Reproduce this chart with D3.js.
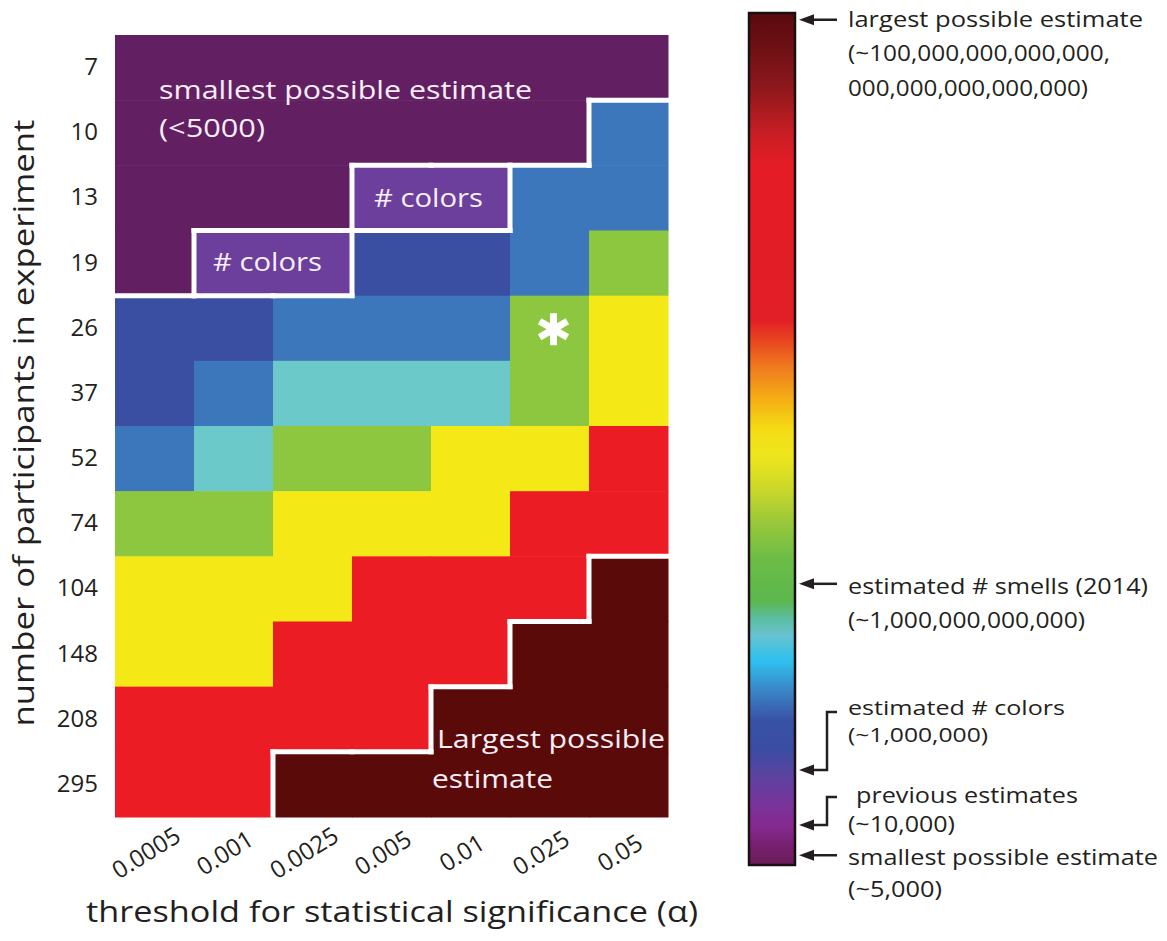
<!DOCTYPE html>
<html><head><meta charset="utf-8">
<script src="https://cdn.jsdelivr.net/npm/d3@7"></script>
<style>
body{margin:0;background:#fff;}
text{font-family:"Open Sans","Noto Sans",sans-serif;}
</style>
</head><body>
<svg id="chart" width="1167" height="941"></svg>
<script>
// ---------------- data ----------------
const alphas = ["0.0005","0.001","0.0025","0.005","0.01","0.025","0.05"];
const participants = ["7","10","13","19","26","37","52","74","104","148","208","295"];
const levels = ["smallest","colors","darkblue","blue","cyan","green","yellow","red","largest"];
const levelColors = ["#621f62","#6b3f9b","#3a4fa1","#3d77bb","#6cc9c9","#8dc63f","#f4e817","#ec1c24","#5b0a0a"];
// level index for each participant row (top to bottom) and alpha column (left to right)
const estimateLevels = [
  [0,0,0,0,0,0,0],
  [0,0,0,0,0,0,3],
  [0,0,0,1,1,3,3],
  [0,1,1,2,2,3,5],
  [2,2,3,3,3,5,6],
  [2,3,4,4,4,5,6],
  [3,4,5,5,6,6,7],
  [5,5,6,6,6,7,7],
  [6,6,6,7,7,7,8],
  [6,6,7,7,7,8,8],
  [7,7,7,7,8,8,8],
  [7,7,8,8,8,8,8]
];
const outlinedLevels = [0,1,8];
const starCell = {alpha:"0.025", n:"26"};

// colour bar (log10 of estimate, bottom to top)
const colorbarDomain = [3.7, 29];
const gradientOffsets = [0,0.04,0.09,0.14,0.18,0.36,0.385,0.415,0.455,0.49,0.52,0.56,0.60,0.64,0.69,0.71,0.73,0.76,0.795,0.83,0.865,0.897,0.93,0.955,0.98,1];
const gradientColors = ["#5a0a0e","#6c1014","#8f181c","#c81e24","#e51c25","#e21e26","#e8461f","#ef7a1e","#f5b114","#f4dd16","#eee61d","#c9d72a","#97c83a","#6cbd45","#5cb74e","#5bbd9f","#68c3cf","#2ec1ef","#3a86c6","#3852a5","#3a4da2","#5d42a0","#7a3399","#85298f","#74206b","#6a1c5a"];
// annotations: pointer position on the colour bar (log10 units)
const annotLabels = [
  ["largest possible estimate","(~100,000,000,000,000,","000,000,000,000,000)"],
  ["estimated # smells (2014)","(~1,000,000,000,000)"],
  ["estimated # colors","(~1,000,000)"],
  [" previous estimates","(~10,000)"],
  ["smallest possible estimate","(~5,000)"]
];
const annotPointers = [28.8, 12.05, 6.52, 4.89, 3.99];

// ---------------- layout ----------------
const svg = d3.select("#chart");
const x = d3.scaleBand().domain(alphas).range([115, 668]);
const y = d3.scaleBand().domain(participants).range([35, 817]);
const color = d3.scaleOrdinal().domain(d3.range(levels.length)).range(levelColors);

const cells = [];
participants.forEach((n,i)=>alphas.forEach((a,j)=>cells.push({n,a,i,j,lev:estimateLevels[i][j]})));

svg.append("g").selectAll("rect").data(cells).join("rect")
  .attr("x", d=>x(d.a)).attr("y", d=>y(d.n))
  .attr("width", x.bandwidth()+0.5).attr("height", y.bandwidth()+0.5)
  .attr("fill", d=>color(d.lev));

// white borders between outlined regions
const segs = [];
const isOut = l => outlinedLevels.includes(l);
for (let i=0;i<participants.length;i++){
  for (let j=0;j<alphas.length;j++){
    const l = estimateLevels[i][j];
    if (j+1<alphas.length){
      const r = estimateLevels[i][j+1];
      if (l!==r && (isOut(l)||isOut(r))){
        const xx = x(alphas[j+1]);
        segs.push([xx, y(participants[i]), xx, y(participants[i])+y.bandwidth()]);
      }
    }
    if (i+1<participants.length){
      const b = estimateLevels[i+1][j];
      if (l!==b && (isOut(l)||isOut(b))){
        const yy = y(participants[i+1]);
        segs.push([x(alphas[j]), yy, x(alphas[j])+x.bandwidth(), yy]);
      }
    }
  }
}
svg.append("g").selectAll("line").data(segs).join("line")
  .attr("x1",d=>d[0]).attr("y1",d=>d[1]).attr("x2",d=>d[2]).attr("y2",d=>d[3])
  .attr("stroke","#fff").attr("stroke-width",5).attr("stroke-linecap","square");

// asterisk
const sx = x(starCell.alpha)+x.bandwidth()/2+4, sy = y(starCell.n)+y.bandwidth()/2+1;
const star = svg.append("g").attr("transform",`translate(${sx},${sy})`);
[90,30,150].forEach(a=>{
  const r=16, rad=a*Math.PI/180;
  star.append("line").attr("x1",-r*Math.cos(rad)).attr("y1",-r*Math.sin(rad))
    .attr("x2",r*Math.cos(rad)).attr("y2",r*Math.sin(rad))
    .attr("stroke","#fff").attr("stroke-width",7);
});

// in-grid labels
const inTxt = "#f7eef6";
function gtext(t, xx, yy, len, fs){
  svg.append("text").attr("x",xx).attr("y",yy).attr("fill",inTxt)
    .attr("font-size",fs).attr("textLength",len).attr("lengthAdjust","spacingAndGlyphs").text(t);
}
const x0 = x(alphas[0]);
gtext("smallest possible estimate", x0+44, 99, 373, 26);
gtext("(<5000)", x0+44, 137, 106, 26);
gtext("# colors", x(alphas[3])+22, 207, 109, 26);
gtext("# colors", x(alphas[1])+19, 271, 109, 26);
gtext("Largest possible", x(alphas[4])+6, 748, 228, 26);
gtext("estimate", x(alphas[4])+1, 788, 121, 26);

// y axis labels
svg.append("g").selectAll("text").data(participants).join("text")
  .attr("x", 98).attr("y", d=>y(d)+y.bandwidth()/2-2)
  .attr("text-anchor","end").attr("dominant-baseline","central")
  .attr("font-size",24).attr("fill","#231f20").text(d=>d);

// x axis labels
svg.append("g").selectAll("text").data(alphas).join("text")
  .attr("transform", d=>`translate(${x(d)+x.bandwidth()/2-4},860) rotate(-32)`)
  .attr("text-anchor","middle").attr("font-size",24).attr("fill","#231f20").text(d=>d);

// axis titles
svg.append("text").attr("x",86).attr("y",922).attr("font-size",29).attr("fill","#231f20")
  .attr("textLength",612).attr("lengthAdjust","spacingAndGlyphs")
  .text("threshold for statistical significance (\u03b1)");
svg.append("text").attr("transform","translate(34,423) rotate(-90)")
  .attr("text-anchor","middle").attr("font-size",29).attr("fill","#231f20")
  .attr("textLength",607).attr("lengthAdjust","spacingAndGlyphs")
  .text("number of participants in experiment");

// ---------------- colour bar ----------------
const cb = d3.scaleLinear().domain(colorbarDomain).range([865, 13]);
const defs = svg.append("defs");
const grad = defs.append("linearGradient").attr("id","cbgrad")
  .attr("x1",0).attr("y1",0).attr("x2",0).attr("y2",1);
grad.selectAll("stop").data(gradientOffsets).join("stop")
  .attr("offset",d=>d).attr("stop-color",(d,i)=>gradientColors[i]);
svg.append("rect").attr("x",749).attr("y",cb(colorbarDomain[1]))
  .attr("width",46).attr("height",cb(colorbarDomain[0])-cb(colorbarDomain[1]))
  .attr("fill","url(#cbgrad)").attr("stroke","#1a1010").attr("stroke-width",2.5);

const ink = "#231f20";
function arrowHead(tipx, yy){
  svg.append("path").attr("d",`M${tipx},${yy} L${tipx+15},${yy-5.5} L${tipx+15},${yy+5.5} Z`).attr("fill",ink);
}
function straightArrow(yy){
  svg.append("line").attr("x1",810).attr("x2",837).attr("y1",yy).attr("y2",yy)
    .attr("stroke",ink).attr("stroke-width",2.5);
  arrowHead(799, yy);
}
function bracketArrow(top, yy){
  svg.append("path").attr("d",`M837,${top} L827,${top} L827,${yy} L810,${yy}`)
    .attr("fill","none").attr("stroke",ink).attr("stroke-width",2.5);
  arrowHead(799, yy);
}
function atext(t, yy, len, xx, fs){
  svg.append("text").attr("x",xx||848).attr("y",yy).attr("font-size",fs||21).attr("fill",ink)
    .attr("textLength",len).attr("lengthAdjust","spacingAndGlyphs").text(t.trim());
}
// largest
let py = cb(annotPointers[0]);
straightArrow(py);
atext(annotLabels[0][0], py+7, 295);
atext(annotLabels[0][1], py+41, 262);
atext(annotLabels[0][2], py+76, 240);
// smells
py = cb(annotPointers[1]);
straightArrow(py);
atext(annotLabels[1][0], py+10, 300);
atext(annotLabels[1][1], py+44, 237);
// colors
py = cb(annotPointers[2]);
bracketArrow(py-58, py);
atext(annotLabels[2][0], py-55, 217, 848, 20);
atext(annotLabels[2][1], py-28, 140, 848, 20);
// previous
py = cb(annotPointers[3]);
bracketArrow(py-28, py);
atext(annotLabels[3][0], py-22, 222, 856);
atext(annotLabels[3][1], py+7, 107);
// smallest
py = cb(annotPointers[4]);
straightArrow(py);
atext(annotLabels[4][0], py+10, 310);
atext(annotLabels[4][1], py+42, 94);
</script>
</body></html>
